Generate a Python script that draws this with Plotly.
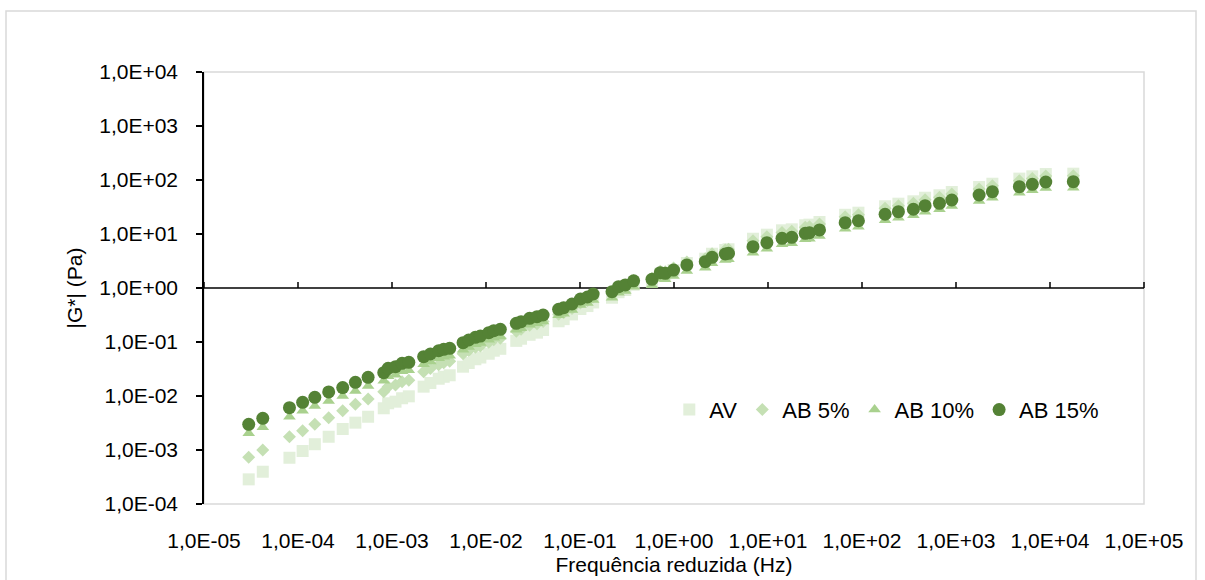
import math
import plotly.graph_objects as go

# Reduced frequency (Hz), shared by the four binders
freq_hz = [
    2.99e-5, 4.22e-5, 8.11e-5, 1.12e-4, 1.51e-4, 2.12e-4, 2.99e-4, 4.08e-4, 5.57e-4,
    8.17e-4, 9.10e-4, 1.09e-3, 1.28e-3, 1.51e-3, 2.17e-3, 2.56e-3, 3.14e-3, 3.55e-3,
    4.11e-3, 5.70e-3, 6.55e-3, 7.71e-3, 8.71e-3, 1.07e-2, 1.21e-2, 1.42e-2, 2.10e-2,
    2.36e-2, 2.91e-2, 3.49e-2, 4.05e-2, 5.92e-2, 6.70e-2, 8.22e-2, 0.101, 0.120, 0.138,
    0.219, 0.257, 0.303, 0.372, 0.583, 0.714, 0.807, 0.989, 1.37, 2.15, 2.54, 3.51, 3.80,
    6.92, 9.73, 14.1, 17.9, 24.9, 27.6, 35.3, 66.2, 91.6, 176, 244, 352, 469, 667, 902,
    1762, 2438, 4721, 6486, 9016, 17700,
]

# |G*| (Pa) for each binder
g_av = [
    2.86e-4, 3.96e-4, 7.19e-4, 9.57e-4, 1.28e-3, 1.76e-3, 2.45e-3, 3.21e-3, 4.13e-3,
    5.92e-3, 7.33e-3, 7.85e-3, 9.08e-3, 9.86e-3, 1.49e-2, 1.74e-2, 2.09e-2, 2.27e-2,
    2.42e-2, 3.49e-2, 4.08e-2, 4.79e-2, 5.16e-2, 6.07e-2, 6.90e-2, 7.48e-2, 0.105,
    0.115, 0.136, 0.149, 0.167, 0.242, 0.265, 0.324, 0.408, 0.463, 0.540,
    0.661, 0.836, 0.918, 1.15, 1.33, 1.84, 1.83, 2.15, 2.90, 3.49, 4.31, 5.06, 5.21,
    8.18, 9.71, 11.7, 12.2, 14.5, 14.9, 16.7, 22.7, 24.8, 32.6, 36.4, 40.3, 47.0, 52.1, 60.0,
    74.1, 85.3, 106, 117, 129, 131,
]
g_ab5 = [
    7.33e-4, 1.00e-3, 1.76e-3, 2.28e-3, 2.99e-3, 3.96e-3, 5.35e-3, 7.03e-3, 8.79e-3,
    1.20e-2, 1.48e-2, 1.60e-2, 1.84e-2, 1.95e-2, 2.82e-2, 3.23e-2, 3.80e-2, 4.12e-2,
    4.39e-2, 6.07e-2, 6.97e-2, 7.98e-2, 8.43e-2, 9.91e-2, 0.110, 0.117, 0.158,
    0.173, 0.204, 0.218, 0.240, 0.326, 0.349, 0.418, 0.527, 0.586, 0.681,
    0.801, 1.01, 1.11, 1.36, 1.51, 2.05, 2.00, 2.34, 3.03, 3.49, 4.31, 5.06, 5.21,
    7.52, 8.91, 10.7, 11.2, 13.3, 13.6, 15.3, 20.9, 22.8, 29.9, 33.4, 37.0, 43.2, 47.9, 55.1,
    68.1, 78.3, 97.1, 107, 119, 120,
]
g_ab10 = [
    2.04e-3, 2.63e-3, 4.13e-3, 5.33e-3, 6.53e-3, 8.07e-3, 1.00e-2, 1.24e-2, 1.53e-2,
    1.92e-2, 2.32e-2, 2.48e-2, 2.87e-2, 2.99e-2, 3.88e-2, 4.36e-2, 5.01e-2, 5.32e-2,
    5.55e-2, 7.19e-2, 8.07e-2, 9.06e-2, 9.57e-2, 0.110, 0.120, 0.127, 0.168,
    0.180, 0.208, 0.223, 0.240, 0.313, 0.335, 0.392, 0.484, 0.527, 0.600,
    0.661, 0.818, 0.880, 1.06, 1.12, 1.49, 1.45, 1.67, 2.07, 2.38, 2.87, 3.30, 3.40,
    4.51, 5.35, 6.44, 6.73, 7.98, 8.18, 9.18, 12.5, 13.6, 17.9, 20.0, 22.2, 25.9, 28.7, 33.0,
    40.8, 47.0, 58.2, 64.4, 71.1, 72.1,
]
g_ab15 = [
    2.99e-3, 3.86e-3, 6.07e-3, 7.64e-3, 9.46e-3, 1.19e-2, 1.43e-2, 1.79e-2, 2.22e-2,
    2.70e-2, 3.26e-2, 3.49e-2, 4.03e-2, 4.21e-2, 5.34e-2, 6.00e-2, 6.90e-2, 7.33e-2,
    7.64e-2, 9.70e-2, 0.109, 0.122, 0.129, 0.149, 0.162, 0.172, 0.222,
    0.238, 0.275, 0.294, 0.316, 0.403, 0.432, 0.506, 0.626, 0.681, 0.774,
    0.854, 1.06, 1.14, 1.36, 1.45, 1.92, 1.87, 2.15, 2.67, 3.07, 3.70, 4.26, 4.39,
    5.82, 6.90, 8.32, 8.69, 10.3, 10.6, 11.9, 16.2, 17.6, 23.2, 25.9, 28.7, 33.4, 37.0, 42.6,
    52.7, 60.7, 75.2, 83.3, 91.8, 93.0,
]

series_names = ["AV", "AB 5%", "AB 10%", "AB 15%"]

x_tickvals = [1e-5, 1e-4, 1e-3, 1e-2, 1e-1, 1e0, 1e1, 1e2, 1e3, 1e4, 1e5]
x_ticktext = ["1,0E-05", "1,0E-04", "1,0E-03", "1,0E-02", "1,0E-01", "1,0E+00",
              "1,0E+01", "1,0E+02", "1,0E+03", "1,0E+04", "1,0E+05"]
y_tickvals = [1e-4, 1e-3, 1e-2, 1e-1, 1e0, 1e1, 1e2, 1e3, 1e4]
y_ticktext = ["1,0E-04", "1,0E-03", "1,0E-02", "1,0E-01", "1,0E+00",
              "1,0E+01", "1,0E+02", "1,0E+03", "1,0E+04"]
x_log_range = [-5, 5]
y_log_range = [-4, 4]
x_cross = 1.0  # the frequency axis crosses the |G*| axis here

styles = [
    dict(symbol="square", size=12, color="#e2efda"),
    dict(symbol="diamond", size=10, color="#c5e0b4"),
    dict(symbol="triangle-up", size=11, color="#a9d18e"),
    dict(symbol="circle", size=13, color="#548235"),
]

FONT = "Liberation Sans, Arial, sans-serif"
TXT = dict(family=FONT, size=21, color="#000000")

fig = go.Figure()
for name, g, st in zip(series_names, [g_av, g_ab5, g_ab10, g_ab15], styles):
    fig.add_trace(go.Scatter(
        x=freq_hz, y=g, name=name, mode="markers",
        marker=dict(symbol=st["symbol"], size=st["size"], color=st["color"],
                    line=dict(width=0)),
    ))

W, H = 1205, 580
ML, MR, MT, MB = 204, 61, 72, 76
pw, ph = W - ML - MR, H - MT - MB


def px_to_paper(x, y):
    return (x - ML) / pw, (H - MB - y) / ph


def log_frac(v, rng):
    return (math.log10(v) - rng[0]) / (rng[1] - rng[0])


bx0, by0 = px_to_paper(6, 11)
bx1, by1 = px_to_paper(1196, 600)
y_axis_cross = log_frac(x_cross, y_log_range)
tick_h = 6 / ph

shapes = [
    # plot-area border
    dict(type="rect", xref="paper", yref="paper", x0=0, y0=0, x1=1, y1=1,
         line=dict(color="#d9d9d9", width=1.5), layer="below"),
    # chart-area border
    dict(type="rect", xref="paper", yref="paper", x0=bx0, y0=by1, x1=bx1, y1=by0,
         line=dict(color="#d9d9d9", width=1.5), layer="below"),
    # frequency axis line, drawn where it crosses the |G*| axis (under the markers)
    dict(type="line", xref="paper", yref="paper", x0=0, x1=1,
         y0=y_axis_cross, y1=y_axis_cross,
         line=dict(color="#000000", width=1.5), layer="below"),
]
# its tick marks, pointing up
for tv in x_tickvals:
    fx = log_frac(tv, x_log_range)
    shapes.append(dict(
        type="line", xref="paper", yref="paper", x0=fx, x1=fx,
        y0=y_axis_cross, y1=y_axis_cross + tick_h,
        line=dict(color="#000000", width=1.5), layer="below",
    ))

fig.update_layout(
    width=W, height=H,
    margin=dict(l=ML, r=MR, t=MT, b=MB, pad=0, autoexpand=False),
    paper_bgcolor="white", plot_bgcolor="rgba(0,0,0,0)",
    font=TXT,
    showlegend=True,
    legend=dict(
        orientation="h", x=0.495, y=0.218, xanchor="left", yanchor="middle",
        font=dict(family=FONT, size=22, color="#000000"),
        bgcolor="rgba(0,0,0,0)", itemwidth=30,
    ),
    xaxis=dict(
        type="log", range=x_log_range, showgrid=False, zeroline=False,
        showline=False, ticks="", tickvals=x_tickvals, ticktext=x_ticktext,
        ticklabelstandoff=22, tickfont=TXT, automargin=False,
        title=dict(text="Frequência reduzida (Hz)", standoff=6, font=TXT),
    ),
    yaxis=dict(
        type="log", range=y_log_range, showgrid=False, zeroline=False,
        showline=True, linecolor="#000000", linewidth=1.5,
        ticks="outside", ticklen=6, tickwidth=1.5, tickcolor="#000000",
        tickvals=y_tickvals, ticktext=y_ticktext, ticklabelstandoff=14,
        tickfont=TXT, automargin=False,
        title=dict(text="|G*| (Pa)", standoff=11, font=TXT),
    ),
    shapes=shapes,
)

fig.write_html("out.html")
